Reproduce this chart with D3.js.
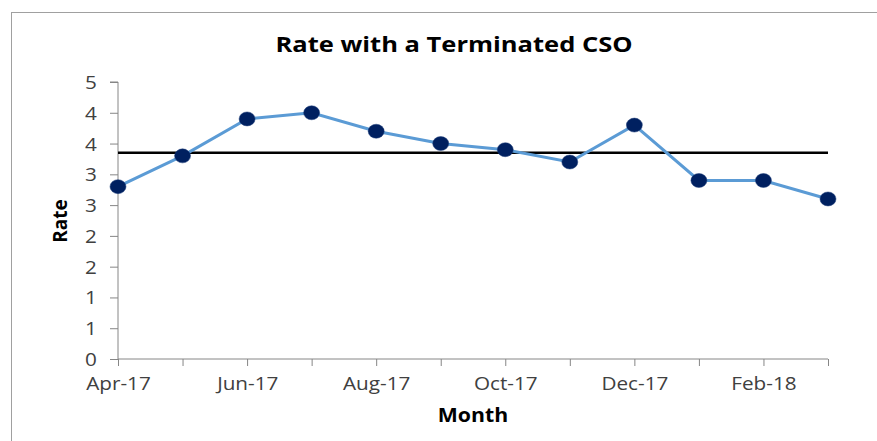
<!DOCTYPE html>
<html lang="en">
<head>
  <meta charset="UTF-8" />
  <title>Rate with a Terminated CSO</title>
  <script src="https://d3js.org/d3.v7.min.js"></script>
  <style>
    body { margin: 0; background: #fff; }
    svg { display: block; font-family: "Open Sans", "Noto Sans", sans-serif; }
    .tick text { fill: #404040; font-size: 18px; font-family: "Open Sans", "Noto Sans", sans-serif; }
    .axis path, .axis line { stroke: #868686; }
    /* the reference text is a bit wide, so stretch it horizontally */
    .wide { transform-box: fill-box; transform-origin: center; transform: scaleX(1.15); }
  </style>
</head>
<body>
  <svg width="877" height="441"></svg>

  <script>
    // Chart data
    const months = ["Apr-17", "May-17", "Jun-17", "Jul-17", "Aug-17", "Sep-17",
                    "Oct-17", "Nov-17", "Dec-17", "Jan-18", "Feb-18", "Mar-18"];
    const rates = [2.8, 3.3, 3.9, 4.0, 3.7, 3.5, 3.4, 3.2, 3.8, 2.9, 2.9, 2.6];
    const targetRate = 3.35;
    const yTicks = [0, 0.5, 1, 1.5, 2, 2.5, 3, 3.5, 4, 4.5];

    const margin = { top: 82, right: 49, bottom: 82, left: 118 },
          width = 877 - margin.left - margin.right,
          height = 441 - margin.top - margin.bottom;

    const svgRoot = d3.select("svg");

    // outer chart border (runs off the right/bottom edges)
    svgRoot.append("rect")
      .attr("x", 11.5).attr("y", 12.5)
      .attr("width", 900).attr("height", 500)
      .attr("fill", "none")
      .attr("stroke", "#a0a0a0");

    const svg = svgRoot.append("g")
      .attr("transform", `translate(${margin.left},${margin.top})`);

    const x = d3.scalePoint()
      .domain(months)
      .range([0, width]);

    const y = d3.scaleLinear()
      .domain([0, 4.5])
      .range([height, 0]);

    // Excel-style rounded labels ("0" number format)
    const fmt = d => String(Math.floor(d + 0.5));

    // Y axis
    svg.append("g")
      .attr("class", "axis")
      .call(d3.axisLeft(y).tickValues(yTicks).tickFormat(fmt).tickSize(8).tickPadding(14))
      .call(g => g.select(".domain").attr("d", `M0,${height}V0H-8`))
      .call(g => g.selectAll(".tick text").attr("dy", "0.36em").attr("class", "wide"));

    // X axis
    const xAxis = svg.append("g")
      .attr("class", "axis")
      .attr("transform", `translate(0,${height})`)
      .call(d3.axisBottom(x).tickSize(7).tickPadding(9)
        .tickFormat((d, i) => i % 2 === 0 ? d : ""))
      .call(g => g.select(".domain").attr("d", `M0,0H${width}`));
    xAxis.selectAll(".tick text").attr("dy", "0.85em").attr("class", "wide");

    // target line
    svg.append("line")
      .attr("x1", 0).attr("x2", width)
      .attr("y1", y(targetRate)).attr("y2", y(targetRate))
      .attr("stroke", "#000")
      .attr("stroke-width", 2.5);

    // rate line
    svg.append("path")
      .datum(rates)
      .attr("fill", "none")
      .attr("stroke", "#5b9bd5")
      .attr("stroke-width", 3)
      .attr("d", d3.line()
        .x((d, i) => x(months[i]))
        .y(d => y(d)));

    svg.selectAll(".dot")
      .data(rates)
      .enter().append("ellipse")
      .attr("class", "dot")
      .attr("cx", (d, i) => x(months[i]))
      .attr("cy", d => y(d))
      .attr("rx", 8).attr("ry", 7)
      .attr("fill", "#002060")
      .attr("stroke", "#1f3f7a")
      .attr("stroke-width", 0.5);

    // title and axis labels
    svgRoot.append("text")
      .attr("class", "wide")
      .attr("x", 454).attr("y", 52)
      .attr("text-anchor", "middle")
      .attr("font-size", "22px")
      .attr("font-weight", "bold")
      .attr("fill", "#000")
      .style("transform", "scaleX(1.16)")
      .text("Rate with a Terminated CSO");

    svgRoot.append("text")
      .attr("transform", "translate(67,221) rotate(-90)")
      .attr("text-anchor", "middle")
      .attr("font-size", "19px")
      .attr("font-weight", "bold")
      .text("Rate");

    svgRoot.append("text")
      .attr("class", "wide")
      .attr("x", 473).attr("y", 422)
      .attr("text-anchor", "middle")
      .attr("font-size", "19px")
      .attr("font-weight", "bold")
      .style("transform", "scaleX(1.12)")
      .text("Month");
  </script>
</body>
</html>
